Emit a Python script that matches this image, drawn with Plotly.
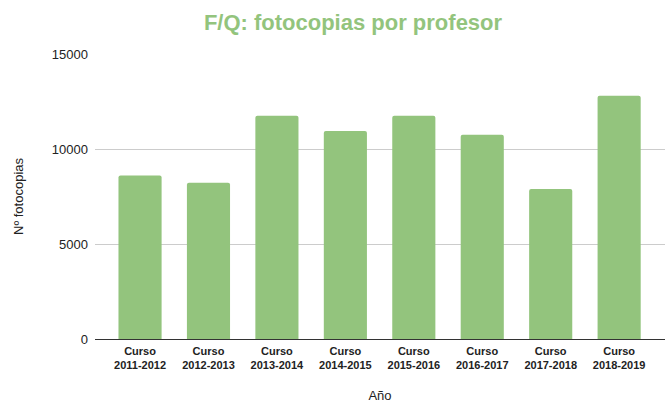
import plotly.graph_objects as go

categories = ["Curso<br>2011-2012", "Curso<br>2012-2013", "Curso<br>2013-2014", "Curso<br>2014-2015",
              "Curso<br>2015-2016", "Curso<br>2016-2017", "Curso<br>2017-2018", "Curso<br>2018-2019"]
fotocopias = [8600, 8230, 11750, 10950, 11750, 10750, 7900, 12800]
y_ticks = [0, 5000, 10000, 15000]
y_tick_labels = ["0", "5000", "10000", "15000"]

GREEN = "#93c47d"
FONT = "Liberation Sans, Arial, sans-serif"

fig = go.Figure(go.Bar(
    x=list(range(len(categories))), y=fotocopias, marker_color=GREEN,
    marker_line_width=0, width=0.63,
))

fig.update_layout(
    width=665, height=403,
    margin=dict(l=95, r=0, t=54, b=64, autoexpand=False),
    paper_bgcolor="white", plot_bgcolor="white",
    barcornerradius=2,
    showlegend=False,
    font=dict(family=FONT, color="#222222"),
    title=dict(text="<b>F/Q: fotocopias por profesor</b>", font=dict(size=22, color=GREEN, family=FONT),
               x=353/665, xanchor="center", xref="container", y=0.945, yanchor="middle", yref="container"),
)
fig.update_xaxes(
    tickmode="array", tickvals=list(range(len(categories))),
    ticktext=[f"<b>{c}</b>" for c in categories],
    tickfont=dict(size=11, color="#222222"),
    range=[-0.658, 7.67], showgrid=False, ticks="", ticklabelstandoff=4,
    title=dict(text="Año", font=dict(size=13, color="#222222"), standoff=26),
    automargin=False,
)
fig.update_yaxes(
    range=[0, 15000], tickmode="array", tickvals=y_ticks, ticktext=y_tick_labels,
    tickfont=dict(size=13, color="#222222"),
    showgrid=True, gridcolor="#cccccc", gridwidth=1,
    zeroline=True, zerolinecolor="#333333", zerolinewidth=1,
    ticks="", ticklabelstandoff=6,
    title=dict(text="Nº fotocopias", font=dict(size=13, color="#222222"), standoff=25),
    automargin=False,
)

fig.write_html("out.html", config={"displayModeBar": False},
               post_script="document.body.style.margin='0px';document.body.style.overflow='hidden';")
